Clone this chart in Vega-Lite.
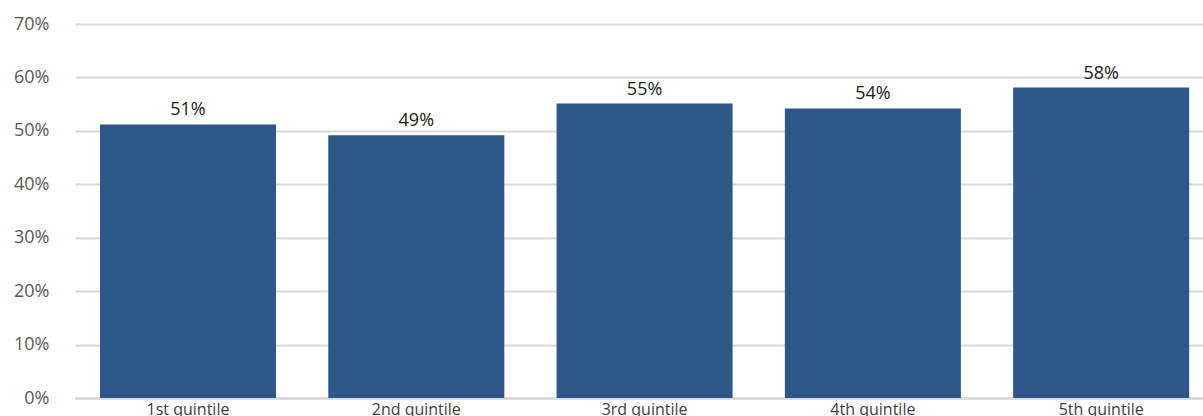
{
  "$schema": "https://vega.github.io/schema/vega-lite/v6.json",
  "width": 1128,
  "height": 374,
  "autosize": {"type": "none"},
  "padding": {"left": 75, "top": 24, "right": 0, "bottom": 18},
  "background": "white",
  "config": {"view": {"stroke": null}, "font": "Open Sans"},
  "data": {
    "values": [
      {"group": "1st quintile", "share": 0.512},
      {"group": "2nd quintile", "share": 0.492},
      {"group": "3rd quintile", "share": 0.551},
      {"group": "4th quintile", "share": 0.542},
      {"group": "5th quintile", "share": 0.581}
    ]
  },
  "encoding": {
    "x": {
      "field": "group",
      "type": "nominal",
      "sort": null,
      "scale": {"paddingInner": 0.229, "paddingOuter": 0.085, "align": 0.644},
      "axis": {
        "title": null,
        "labelAngle": 0,
        "labelFont": "Open Sans",
        "labelFontSize": 16,
        "labelColor": "#404040",
        "labelPadding": 3,
        "ticks": false,
        "domain": true,
        "domainColor": "#d9d9d9",
        "domainWidth": 2.5,
        "grid": false
      }
    },
    "y": {
      "field": "share",
      "type": "quantitative",
      "scale": {"domain": [0, 0.7], "nice": false},
      "axis": {
        "title": null,
        "values": [0, 0.1, 0.2, 0.3, 0.4, 0.5, 0.6, 0.7],
        "format": ".0%",
        "labelFont": "Open Sans",
        "labelFontSize": 18,
        "labelColor": "#595959",
        "labelPadding": 26,
        "ticks": false,
        "domain": false,
        "grid": true,
        "gridColor": "#d9d9d9",
        "gridWidth": 2
      }
    }
  },
  "layer": [
    {"mark": {"type": "bar", "color": "#2e5789"}},
    {
      "mark": {"type": "text", "baseline": "alphabetic", "dy": -9, "fontSize": 18, "color": "#1a1a1a", "font": "Open Sans"},
      "encoding": {"text": {"field": "share", "type": "quantitative", "format": ".0%"}}
    }
  ]
}
